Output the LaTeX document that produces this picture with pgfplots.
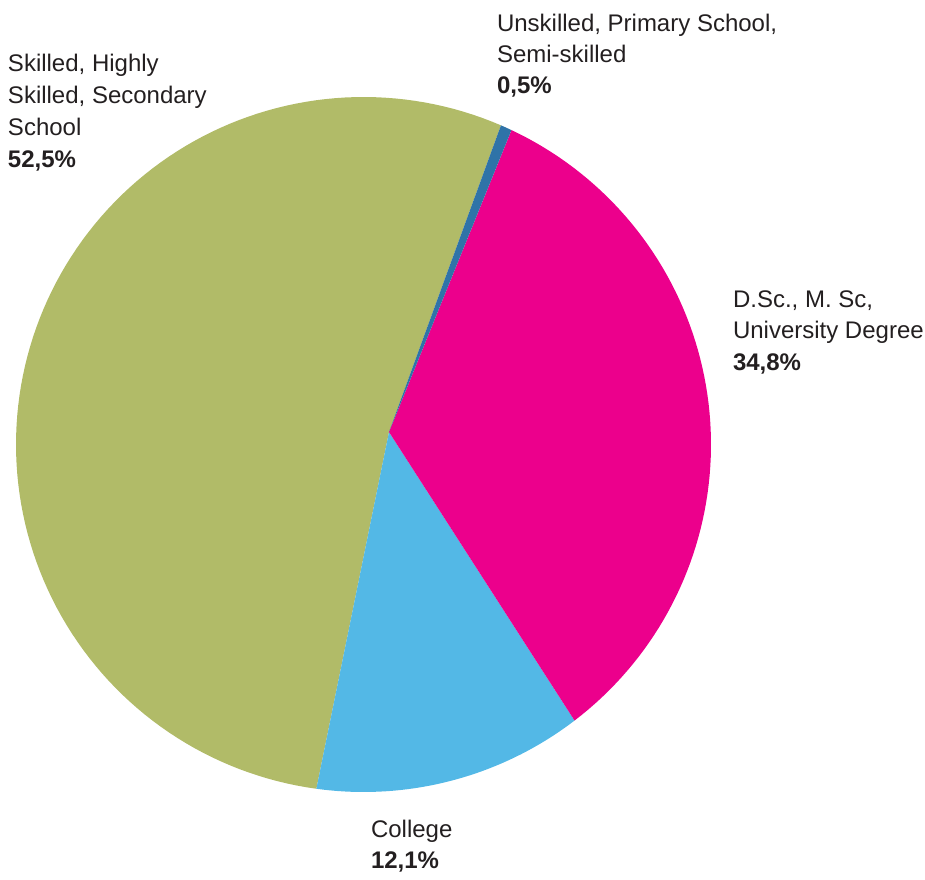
\documentclass[border=0pt]{standalone}
\usepackage{pgfplots}
\pgfplotsset{compat=1.18}
\usepackage{fontspec}
\setmainfont{Liberation Sans}
\definecolor{cgreen}{HTML}{B1BB68}
\definecolor{cpink}{HTML}{EC008C}
\definecolor{ccyan}{HTML}{53B8E6}
\definecolor{cblue}{HTML}{2F73A8}
\definecolor{ctext}{HTML}{231F20}
\tikzset{lbl/.style={inner sep=0pt, outer sep=0pt, text=ctext, anchor=base west, font=\fontsize{12}{14}\selectfont}}
\begin{document}
\begin{tikzpicture}
\begin{axis}[
  width=462.5pt, height=439.5pt, scale only axis,
  xmin=0, xmax=925, ymin=0, ymax=879,
  hide axis, clip=false,
]
% slices: boundary angles (deg) on the rim, pie centre (363.5,434.5), r=347.5, slice vertex (389,447)
\addplot[fill=cgreen, draw=none, domain=66.7:262.2, samples=120] ({363.5+347.5*cos(x)},{434.5+347.5*sin(x)}) -- (axis cs:389,447) -- cycle;
\addplot[fill=ccyan, draw=none, domain=262.2:307.4, samples=40] ({363.5+347.5*cos(x)},{434.5+347.5*sin(x)}) -- (axis cs:389,447) -- cycle;
\addplot[fill=cpink, draw=none, domain=-52.6:64.8, samples=80] ({363.5+347.5*cos(x)},{434.5+347.5*sin(x)}) -- (axis cs:389,447) -- cycle;
\addplot[fill=cblue, draw=none, domain=64.8:66.7, samples=5] ({363.5+347.5*cos(x)},{434.5+347.5*sin(x)}) -- (axis cs:389,447) -- cycle;
% labels
\node[lbl] at (axis cs:8,807) {Skilled, Highly};
\node[lbl] at (axis cs:8,775) {Skilled, Secondary};
\node[lbl] at (axis cs:8,743) {School};
\node[lbl] at (axis cs:8,711) {\bfseries 52,5\%};
\node[lbl] at (axis cs:497,847) {Unskilled, Primary School,};
\node[lbl] at (axis cs:497,816) {Semi-skilled};
\node[lbl] at (axis cs:497,785) {\bfseries 0,5\%};
\node[lbl] at (axis cs:733,571) {D.Sc., M. Sc,};
\node[lbl] at (axis cs:733,540) {University Degree};
\node[lbl] at (axis cs:733,509) {\bfseries 34,8\%};
\node[lbl] at (axis cs:371,42) {College};
\node[lbl] at (axis cs:371,11) {\bfseries 12,1\%};
\path (axis cs:0,0) rectangle (axis cs:925,879);
\end{axis}
\end{tikzpicture}
\end{document}
